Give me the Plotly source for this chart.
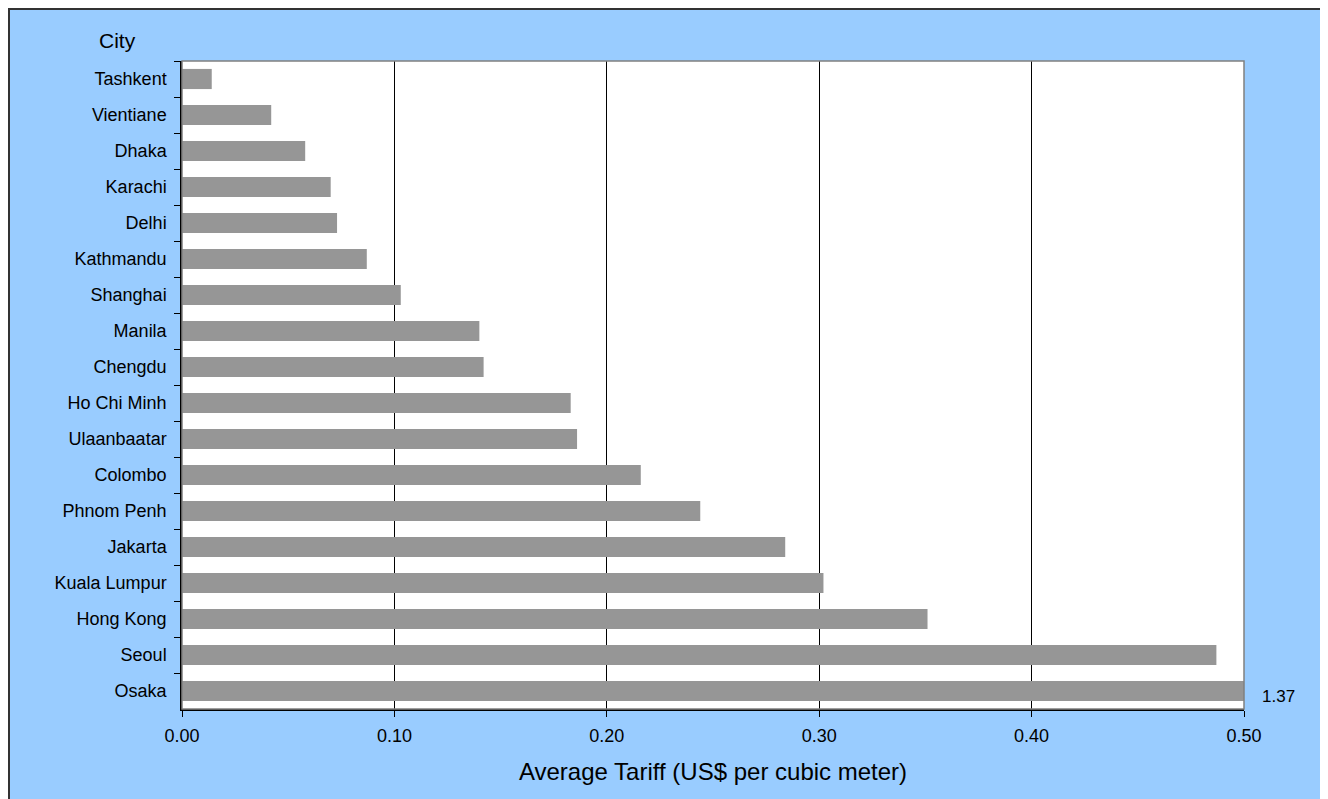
import plotly.graph_objects as go

cities = ["Tashkent", "Vientiane", "Dhaka", "Karachi", "Delhi", "Kathmandu", "Shanghai",
          "Manila", "Chengdu", "Ho Chi Minh", "Ulaanbaatar", "Colombo", "Phnom Penh",
          "Jakarta", "Kuala Lumpur", "Hong Kong", "Seoul", "Osaka"]
tariffs = [0.014, 0.042, 0.058, 0.070, 0.073, 0.087, 0.103,
           0.140, 0.142, 0.183, 0.186, 0.216, 0.244,
           0.284, 0.302, 0.351, 0.487, 1.37]
x_ticks = [0.0, 0.1, 0.2, 0.3, 0.4, 0.5]
x_tick_labels = ["0.00", "0.10", "0.20", "0.30", "0.40", "0.50"]

FONT = "Liberation Sans, Arial, sans-serif"

fig = go.Figure()
fig.add_trace(go.Bar(
    y=cities, x=tariffs, orientation="h",
    marker=dict(color="#969696", line=dict(width=0)),
    width=0.56, cliponaxis=True, showlegend=False,
))

# label for the clipped Osaka bar
fig.add_annotation(
    x=1.015, xref="paper", y=cities[-1], yref="y",
    text=f"{tariffs[-1]:.2f}", showarrow=False, xanchor="left", yanchor="middle",
    yshift=-5, font=dict(family=FONT, size=17, color="#000000"),
)
fig.add_annotation(
    x=-0.0612, xref="paper", y=1.0324, yref="paper", text="City", showarrow=False,
    xanchor="center", yanchor="middle", font=dict(family=FONT, size=21, color="#000000"),
)

# plot area border (grey top/right)
fig.add_shape(type="rect", xref="paper", yref="paper", x0=0, x1=1, y0=0, y1=1,
              line=dict(color="#808080", width=1.5), layer="above")
# outer chart border (left, top, right edges; bottom runs off the picture)
fig.add_shape(type="rect", xref="paper", yref="paper",
              x0=-0.1629, x1=1.0777, y0=-0.16, y1=1.0802,
              line=dict(color="#333333", width=2), layer="above")

fig.update_layout(
    width=1320, height=791,
    margin=dict(l=174, r=84, t=53, b=90),
    paper_bgcolor="#99CCFF", plot_bgcolor="#FFFFFF",
    font=dict(family=FONT, size=18, color="#000000"),
    bargap=0.44,
)
fig.update_xaxes(
    range=[0, 0.5], tickvals=x_ticks, ticktext=x_tick_labels,
    showgrid=True, gridcolor="#000000", gridwidth=1,
    showline=True, linecolor="#000000", linewidth=1.5,
    ticks="outside", ticklen=6, tickcolor="#000000",
    tickfont=dict(family=FONT, size=18), ticklabelstandoff=4,
    title=dict(text="Average Tariff (US$ per cubic meter)", font=dict(family=FONT, size=24), standoff=18),
    zeroline=False,
)
fig.update_yaxes(
    categoryorder="array", categoryarray=cities, autorange="reversed",
    showline=True, linecolor="#000000", linewidth=1.5,
    ticks="outside", ticklen=6, tickcolor="#000000", tickson="boundaries",
    tickfont=dict(family=FONT, size=18), ticklabelstandoff=10,
    showgrid=False,
)

fig.write_html("out.html")
